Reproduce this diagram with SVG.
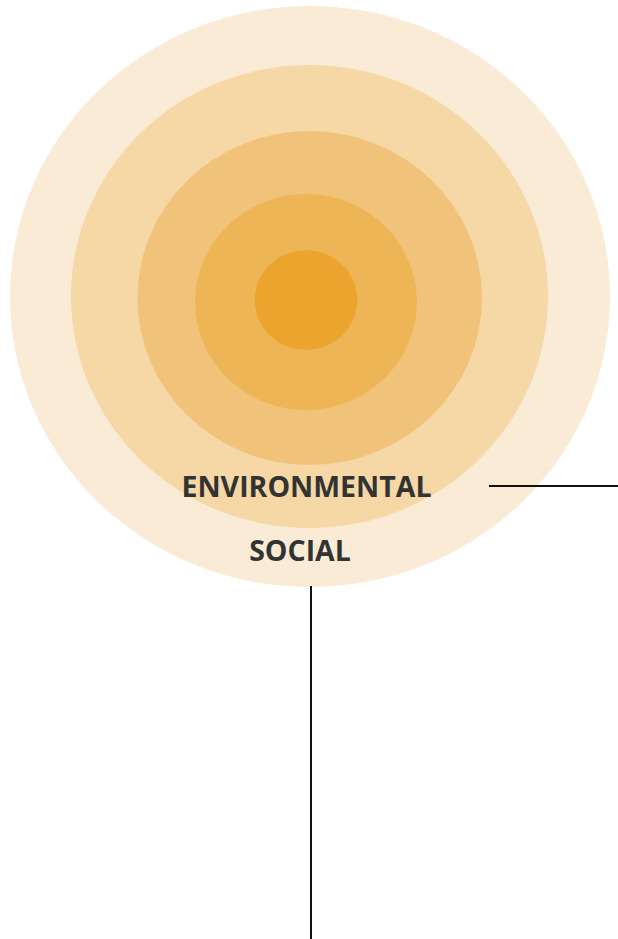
<svg xmlns="http://www.w3.org/2000/svg" width="618" height="939" viewBox="0 0 618 939">
<style>
.lbl{font-family:"Open Sans","Noto Sans","Liberation Sans",sans-serif;font-weight:700;font-size:28.5px;fill:#333333;text-anchor:middle}
.conn{stroke:#111111;stroke-width:2;fill:none}
</style>
<rect width="618" height="939" fill="#ffffff"/>
<g id="ring-social"><ellipse cx="310" cy="296.5" rx="300" ry="290.5" fill="#FAEBD6"/></g>
<g id="ring-environmental"><ellipse cx="309.5" cy="296.5" rx="238.5" ry="231.5" fill="#F6D7A6"/></g>
<g id="ring-3"><ellipse cx="309.7" cy="298" rx="172.3" ry="167" fill="#F1C37A"/></g>
<g id="ring-4"><ellipse cx="306" cy="302" rx="111" ry="108" fill="#EEB556"/></g>
<g id="ring-core"><ellipse cx="306" cy="300" rx="51.3" ry="49.7" fill="#EBA52F"/></g>
<g id="label-environmental"><text class="lbl" x="306.5" y="497">ENVIRONMENTAL</text></g>
<g id="label-social"><text class="lbl" x="300" y="561">SOCIAL</text></g>
<g id="connectors">
<line class="conn" x1="489" y1="486" x2="618" y2="486"/>
<line class="conn" x1="311" y1="586" x2="311" y2="939"/>
</g>
</svg>
